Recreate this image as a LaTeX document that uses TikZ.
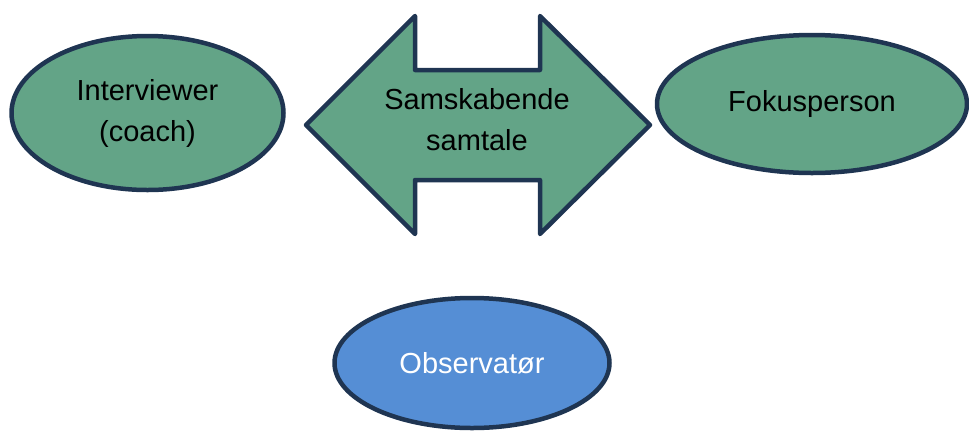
\documentclass[tikz,border=0pt]{standalone}
\usepackage{fontspec}
\setmainfont{Liberation Sans}
\usetikzlibrary{shapes.geometric}
\definecolor{grfill}{HTML}{63A487}
\definecolor{blfill}{HTML}{558ED5}
\definecolor{edge}{HTML}{1F3552}
\begin{document}
\begin{tikzpicture}[x=1pt,y=-1pt,
  shp/.style={draw=edge,line width=4.5pt,line join=round},
  oval/.style={shp,ellipse,inner sep=0pt,align=center},
  lbl/.style={font=\fontsize{29}{41}\selectfont,align=center,text=black}]
\useasboundingbox (0,0) rectangle (969,432);
\node[oval,fill=grfill,minimum width=272pt,minimum height=154pt,lbl] (iv) at (147.5,113) {Interviewer\\(coach)};
\node[oval,fill=grfill,minimum width=310pt,minimum height=138pt,lbl] (fp) at (812,104) {Fokusperson};
\node[oval,fill=blfill,minimum width=275pt,minimum height=130pt,lbl,text=white] (ob) at (472,363) {Observatør};
\draw[shp,fill=grfill] (306,125) -- (415,16) -- (415,70) -- (540,70) -- (540,16) -- (650,125)
  -- (540,234) -- (540,180) -- (415,180) -- (415,234) -- cycle;
\node[lbl] (sk) at (477,120) {Samskabende\\samtale};
\end{tikzpicture}
\end{document}
